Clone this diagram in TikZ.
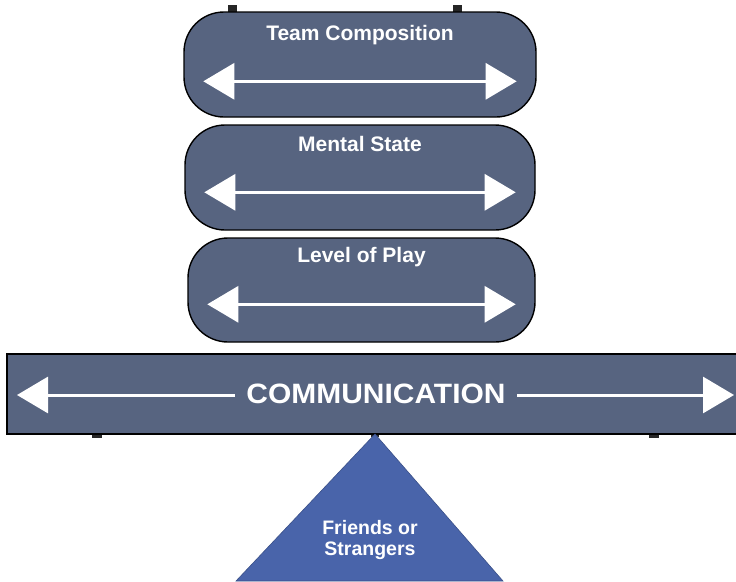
\documentclass[tikz,border=0pt]{standalone}
\usepackage{fontspec}
\setmainfont{Liberation Sans}
\usetikzlibrary{arrows.meta, positioning, calc}
\definecolor{slate}{RGB}{87,100,128}
\definecolor{wedge}{RGB}{73,100,170}
\tikzset{
  oval/.style={draw=black, line width=1.4pt, fill=slate, rounded corners=40pt, inner sep=0pt},
  tab/.style={fill=black!85},
  twoway/.style={draw=white, line width=3pt, {Triangle[width=36pt,length=31pt]}-{Triangle[width=36pt,length=31pt]}},
  boxlabel/.style={text=white, font=\bfseries\fontsize{21}{25}\selectfont, anchor=base, inner sep=0pt}
}
\begin{document}
\begin{tikzpicture}[x=1pt, y=-1pt]

            \useasboundingbox (0,0) rectangle (736,581);
            \clip (0,0) rectangle (736,581);

            % Small tabs on top of the stack
            \fill[tab] (228,5) rectangle (237,16);
            \fill[tab] (453,5) rectangle (462,16);

            % The three stacked boxes
            \node[oval, minimum width=352pt, minimum height=105pt] (team) at (360,64.5) {};
            \node[oval, minimum width=350pt, minimum height=105pt] (mental) at (360,177.5) {};
            \node[oval, minimum width=347pt, minimum height=104pt] (level) at (361.5,290) {};

            % Labels in the boxes
            \node[boxlabel] (teamtxt) at ([yshift=-29pt]team.north) {Team Composition};
            \node[boxlabel] (mentaltxt) at ([yshift=-27pt]mental.north) {Mental State};
            \node[boxlabel] (leveltxt) at ([yshift=-25pt]level.north) {Level of Play};

            % Double arrows in the boxes
            \draw[twoway] ([xshift=20pt,yshift=-70pt]team.north west) -- ([xshift=-20pt,yshift=-70pt]team.north east);
            \draw[twoway] ([xshift=20pt,yshift=-68pt]mental.north west) -- ([xshift=-20pt,yshift=-68pt]mental.north east);
            \draw[twoway] ([xshift=20pt,yshift=-67pt]level.north west) -- ([xshift=-20pt,yshift=-67pt]level.north east);

            % Tabs under the beam
            \fill[tab] (92,430) rectangle (102,438);
            \fill[tab] (649,430) rectangle (659,438);
            \fill[tab] (371,430) rectangle (379,437);

            % The beam
            \node[draw=black, line width=1.4pt, fill=slate, minimum width=740pt, minimum height=80pt, inner sep=0pt] (beam) at (377,394) {};
            \coordinate (beamL) at (17,395);
            \coordinate (beamR) at (734,395);
            \draw[twoway] (beamL) -- (beamR);
            \node[fill=slate, text=white, inner xsep=11pt, inner ysep=2pt, font=\bfseries\fontsize{28}{32}\selectfont\addfontfeatures{FakeStretch=1.07}] (comm) at (376,394) {COMMUNICATION};

            % The fulcrum
            \coordinate (apex) at (375,434);
            \coordinate (baseL) at (236,581);
            \coordinate (baseR) at (503,581);
            \filldraw[fill=wedge, draw=wedge!80!black, line width=0.6pt] (apex) -- (baseR) -- (baseL) -- cycle;
            \node[text=white, align=center, font=\bfseries\fontsize{19.5}{21}\selectfont] (fulcrum) at (370,540) {Friends or\\Strangers};

\end{tikzpicture}
\end{document}
